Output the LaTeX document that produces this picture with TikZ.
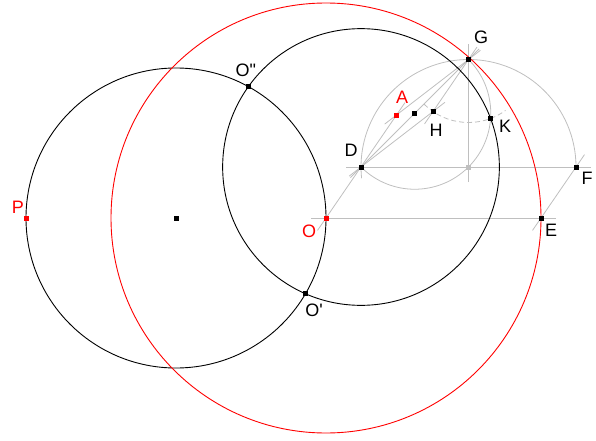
\documentclass[tikz,border=0pt]{standalone}
\usepackage{fontspec}
\newfontfamily\lblfont{Liberation Sans}[Ligatures=TeXOff]

\begin{document}
\begin{tikzpicture}[x=1pt, y=1pt,
  pt/.style={fill=black, inner sep=0pt, minimum size=5pt},
  redpt/.style={pt, fill=red},
  graypt/.style={pt, fill=black!25},
  lbl/.style={font=\lblfont\fontsize{18}{20}\selectfont, inner sep=0pt},
  redlbl/.style={lbl, text=red},
  aux/.style={black!25, line width=0.8pt, shorten <=-15pt, shorten >=-15pt},
  arcs/.style={black!25, line width=0.8pt},
  circ/.style={line width=0.9pt}]
  \useasboundingbox (0,0) rectangle (596,440);

  \coordinate (C) at (176,222);
  \coordinate (P) at (26,222);
  \coordinate (O) at (326,222);
  \coordinate (E) at (541,222);
  \coordinate (D) at (361,273);
  \coordinate (F) at (576,273);
  \coordinate (M) at (468.5,273);
  \coordinate (G) at (468.5,380.5);
  \coordinate (Q) at (414.75,326.75);
  \coordinate (A) at (396.5,325);
  \coordinate (H) at (433,328.5);
  \coordinate (K) at (490.6,321.5);
  \coordinate (O1) at (305.5,146.3);
  \coordinate (O2) at (248.4,353.4);

  \path[aux]
  (O) edge (A)
  (O) edge (E)
  (E) edge (F)
  (D) edge (F)
  (M) edge (G)
  (D) edge (G)
  (D) edge (H)
  (A) edge (G)
  (H) edge (G)
  ;
  \draw[arcs] (F) arc[start angle=0, end angle=186, radius=107.5];
  \draw[arcs] (G) arc[start angle=45, end angle=-135, radius=76];
  \draw[arcs, dash pattern=on 5pt off 3pt] (G) ++(225:63) arc[start angle=225, end angle=306, radius=63];

  \draw[circ] (C) circle[radius=150];
  \draw[circ] (D) circle[radius=138.35];
  \draw[circ, red] (O) circle[radius=215];

  \node[redpt] (Pm) at (P) {};
  \node[pt] (Cm) at (C) {};
  \node[redpt] (Om) at (O) {};
  \node[pt] (Em) at (E) {};
  \node[pt] (Dm) at (D) {};
  \node[pt] (Fm) at (F) {};
  \node[graypt] (Mm) at (M) {};
  \node[pt] (Gm) at (G) {};
  \node[pt] (Qm) at (Q) {};
  \node[redpt] (Am) at (A) {};
  \node[pt] (Hm) at (H) {};
  \node[pt] (Km) at (K) {};
  \node[pt] (O1m) at (O1) {};
  \node[pt] (O2m) at (O2) {};

  \node[redlbl, shift={(-8,11)}] (Pl) at (P) {P};
  \node[redlbl, shift={(-17,-13)}] (Ol) at (O) {O};
  \node[redlbl, shift={(5.5,18)}] (Al) at (A) {A};
  \node[lbl, shift={(-10,17)}] (Dl) at (D) {D};
  \node[lbl, shift={(12.5,22.5)}] (Gl) at (G) {G};
  \node[lbl, shift={(3,-18.5)}] (Hl) at (H) {H};
  \node[lbl, shift={(14.5,-7.5)}] (Kl) at (K) {K};
  \node[lbl, shift={(11,-11)}] (Fl) at (F) {F};
  \node[lbl, shift={(10,-12)}] (El) at (E) {E};
  \node[lbl, shift={(8.5,-17)}] (O1l) at (O1) {O'};
  \node[lbl, shift={(-2.5,16.5)}] (O2l) at (O2) {O"};
\end{tikzpicture}
\end{document}
